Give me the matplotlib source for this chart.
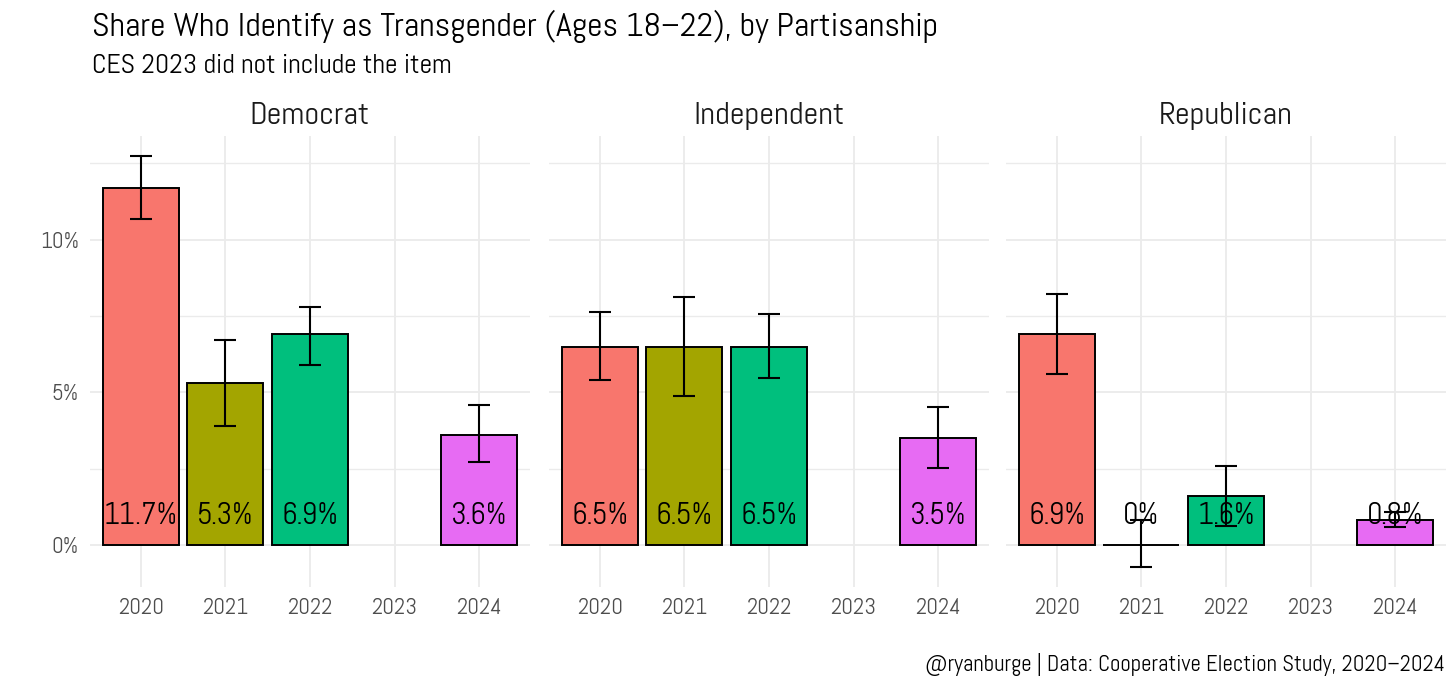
import matplotlib.pyplot as plt
from matplotlib.ticker import MultipleLocator, FuncFormatter

plt.rcParams['font.family'] = ['Abel', 'DejaVu Sans']

# data (percent)
years = [2020, 2021, 2022, 2023, 2024]
panels = ["Democrat", "Independent", "Republican"]
dem_share = [11.7, 5.3, 6.9, None, 3.6]
dem_low = [10.69, 3.88, 5.89, None, 2.71]
dem_high = [12.73, 6.71, 7.80, None, 4.58]
ind_share = [6.5, 6.5, 6.5, None, 3.5]
ind_low = [5.40, 4.89, 5.48, None, 2.52]
ind_high = [7.64, 8.11, 7.58, None, 4.52]
rep_share = [6.9, 0.0, 1.6, None, 0.8]
rep_low = [5.60, -0.71, 0.63, None, 0.60]
rep_high = [8.21, 0.82, 2.57, None, 1.09]
year_colors = ["#F8766D", "#A3A500", "#00BF7D", "#00B0F6", "#E76BF3"]

series = [
    (dem_share, dem_low, dem_high),
    (ind_share, ind_low, ind_high),
    (rep_share, rep_low, rep_high),
]

W, H = 1456, 692
fig = plt.figure(figsize=(W / 100, H / 100), dpi=100)

panel_left = [90, 549, 1006]
panel_w = 440
top_px, bot_px = 136, 587

for i, name in enumerate(panels):
    ax = fig.add_axes([panel_left[i] / W, (H - bot_px) / H, panel_w / W, (bot_px - top_px) / H])
    share, low, high = series[i]
    for j, yr in enumerate(years):
        if share[j] is None:
            continue
        ax.bar(j, share[j], width=0.9, color=year_colors[j], edgecolor="black",
               linewidth=1.4, zorder=2)
        ax.errorbar(j, share[j], yerr=[[share[j] - low[j]], [high[j] - share[j]]],
                    fmt="none", ecolor="black", elinewidth=1.5, capsize=8,
                    capthick=1.5, zorder=3)
        lab = "0%" if share[j] == 0 else f"{share[j]:.1f}%"
        ax.text(j, 0.95, lab, ha="center", va="center", fontsize=22, color="black", zorder=4)

    ax.set_xlim(-0.6, 4.6)
    ax.set_ylim(-1.38, 13.40)
    ax.set_xticks(range(len(years)))
    ax.set_xticklabels([str(y) for y in years])
    ax.yaxis.set_major_locator(MultipleLocator(5))
    ax.yaxis.set_minor_locator(MultipleLocator(2.5))
    ax.yaxis.set_major_formatter(FuncFormatter(lambda v, p: f"{v:.0f}%"))
    ax.grid(True, which="major", color="#EBEBEB", linewidth=1.3, zorder=0)
    ax.grid(True, which="minor", axis="y", color="#EBEBEB", linewidth=1.0, zorder=0)
    ax.set_axisbelow(True)
    for s in ax.spines.values():
        s.set_visible(False)
    ax.tick_params(axis="both", which="both", length=0, labelsize=16.5, colors="#4D4D4D")
    ax.tick_params(axis="x", pad=8)
    ax.tick_params(axis="y", pad=8)
    if i > 0:
        ax.tick_params(axis="y", labelleft=False)
    # facet strip title
    fig.text((panel_left[i] + panel_w / 2) / W, (H - 116) / H, name, ha="center", va="center",
             fontsize=23.3, color="#1A1A1A")

fig.text(92 / W, (H - 26) / H, "Share Who Identify as Transgender (Ages 18\u201322), by Partisanship",
         ha="left", va="center", fontsize=24.5, color="black")
fig.text(92 / W, (H - 66) / H, "CES 2023 did not include the item",
         ha="left", va="center", fontsize=20, color="black")
fig.text(1445 / W, (H - 665) / H, "@ryanburge | Data: Cooperative Election Study, 2020\u20132024",
         ha="right", va="center", fontsize=16.3, color="black")

fig.savefig("out.png", dpi=100, facecolor="white")
